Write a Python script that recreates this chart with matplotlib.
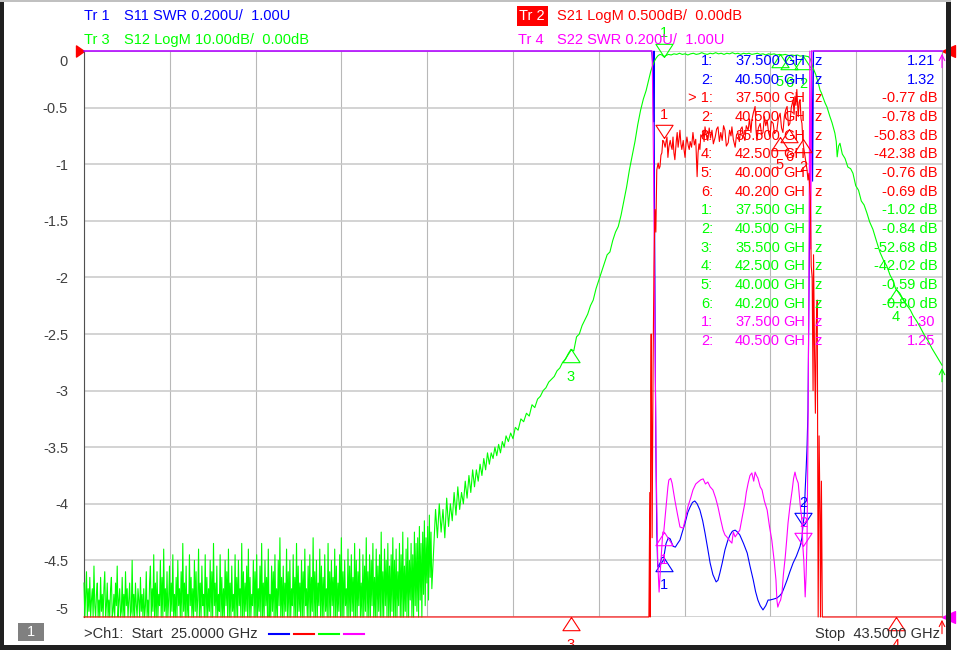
import matplotlib.pyplot as plt
import numpy as np
from matplotlib.path import Path
from matplotlib.patches import Rectangle
from matplotlib.transforms import ScaledTranslation

plt.rcParams['font.family'] = ['Liberation Sans', 'DejaVu Sans']

W, H = 958, 650
BLUE, RED, GREEN, MAGENTA = '#0000ff', '#ff0000', '#00ff00', '#ff00ff'

# sweep
f_start, f_stop = 25.0, 43.5

# ---------------- Tr3  S12 LogM (dB) ----------------
# noise floor 25 .. 32.5 GHz (evenly spaced sweep points)
s12_floor_db = [
    -94, -100, -96, -92, -102, -95, -99, -93, -104, -97, -95, -101, -91, -98, -103, -96, -94, -100, -97, -102,
    -93, -99, -96, -105, -95, -92, -101, -98, -94, -103, -97, -100, -95, -93, -102, -99, -96, -104, -94, -98,
    -91, -101, -97, -95, -103, -99, -93, -100, -96, -104, -92, -98, -95, -102, -97, -94, -101, -99, -90, -103,
    -96, -100, -94, -98, -102, -95, -97, -104, -93, -99, -96, -101, -95, -103, -98, -92, -100, -97, -105, -94,
    -91, -103, -95, -99, -89, -102, -94, -100, -92, -105, -96, -98, -90, -104, -93, -101, -88, -99, -95, -103,
    -92, -100, -97, -91, -104, -94, -99, -89, -102, -96, -100, -93, -105, -90, -98, -95, -103, -92, -101, -87,
    -99, -94, -104, -91, -100, -96, -102, -89, -98, -93, -105, -95, -101, -90, -99, -92, -103, -97, -88, -100,
    -94, -104, -91, -98, -96, -102, -89, -101, -93, -105, -95, -99, -90, -103, -92, -100, -87, -98, -94, -104,
    -91, -101, -96, -99, -89, -103, -93, -100, -95, -105, -90, -98, -92, -102, -88, -101, -94, -104, -91, -99,
    -96, -103, -89, -100, -93, -105, -90, -98, -95, -102, -87, -101, -92, -104, -94, -99, -91, -103, -88, -100,
    -93, -105, -96, -98, -90, -102, -92, -101, -89, -104, -95, -99, -91, -103, -87, -100, -94, -105, -90, -98,
    -93, -102, -88, -101, -96, -104, -91, -99, -92, -103, -89, -100, -95, -105, -90, -98, -86, -102, -93, -101,
    -91, -104, -94, -99, -88, -103, -92, -100, -90, -105, -95, -98, -89, -102, -93, -101, -87, -104, -91, -99,
    -94, -103, -90, -100, -92, -105, -88, -98, -95, -102, -91, -101, -89, -104, -93, -99, -86, -103, -92, -100,
    -90, -105, -94, -98, -88, -102, -91, -101, -93, -104, -89, -99, -95, -103, -87, -100, -92, -105, -90, -98,
    -93, -102, -88, -101, -91, -104, -94, -99, -89, -103, -86, -100, -92, -105, -90, -98, -95, -102, -88, -101,
    -91, -104, -89, -99, -93, -103, -87, -100, -90, -105, -92, -98, -88, -102, -94, -101, -89, -104, -91, -99,
    -86, -103, -92, -100, -89, -105, -90, -98, -87, -102, -93, -101, -88, -104, -91, -99, -89, -103, -85, -100,
    -92, -105, -88, -98, -90, -102, -87, -101, -91, -104, -89, -99, -86, -103, -90, -100, -88, -105, -92, -98,
    -87, -102, -89, -101, -85, -104, -91, -99, -88, -103, -86, -100, -90, -97, -87, -102, -89, -101, -85, -98,
    -87, -99, -86, -101, -84, -97, -87, -100, -85, -96, -83, -98, -86, -94, -84, -97, -82, -93, -85, -95,
]
s12_floor_end = 32.5
s12_pts = [
    (32.54, -88), (32.58, -81), (32.62, -86), (32.66, -80), (32.70, -85), (32.74, -81), (32.78, -86),
    (32.82, -79), (32.86, -84), (32.90, -80), (32.94, -83), (32.98, -78), (33.02, -82), (33.06, -77),
    (33.10, -81), (33.14, -78), (33.18, -80), (33.22, -76), (33.26, -79), (33.30, -75), (33.34, -78),
    (33.38, -74), (33.42, -77), (33.46, -74), (33.50, -76), (33.54, -73), (33.58, -75), (33.62, -72),
    (33.66, -74), (33.70, -71), (33.74, -73), (33.78, -71), (33.82, -72), (33.86, -70), (33.90, -71.5),
    (33.94, -69.5), (33.98, -71), (34.02, -69), (34.06, -70), (34.10, -68), (34.15, -69), (34.20, -67.5),
    (34.25, -68.5), (34.30, -66.5), (34.36, -67), (34.42, -65), (34.48, -65.5), (34.54, -64), (34.60, -64.5),
    (34.66, -62.5), (34.72, -63), (34.78, -61.5), (34.84, -61), (34.90, -60), (34.96, -59.5), (35.02, -58.5),
    (35.08, -58), (35.14, -57.5), (35.20, -56.5), (35.26, -56), (35.32, -55), (35.38, -54.5), (35.44, -53.5),
    (35.50, -52.7), (35.56, -53), (35.62, -50.5), (35.68, -50), (35.74, -48.5), (35.80, -47.5), (35.86, -46.5),
    (35.92, -45), (35.98, -44), (36.04, -42), (36.10, -40.5), (36.16, -39), (36.22, -37.5), (36.28, -36),
    (36.34, -35.5), (36.40, -33.5), (36.46, -32), (36.52, -31), (36.58, -29), (36.64, -26.5), (36.70, -24),
    (36.76, -21), (36.82, -18.5), (36.88, -16), (36.94, -13), (37.00, -10.5), (37.06, -8.5), (37.12, -7),
    (37.18, -5), (37.22, -3.6), (37.26, -2.6), (37.30, -1.8), (37.34, -1.2), (37.38, -0.8), (37.42, -0.6),
    (37.46, -0.7), (37.50, -1.0), (37.55, -0.8), (37.60, -0.6), (37.66, -0.7), (37.72, -0.5), (37.78, -0.6),
    (37.84, -0.4), (37.90, -0.6), (37.96, -0.5), (38.02, -0.7), (38.08, -0.5), (38.14, -0.4), (38.20, -0.6),
    (38.26, -0.5), (38.32, -0.3), (38.38, -0.5), (38.44, -0.6), (38.50, -0.4), (38.56, -0.5), (38.62, -0.3),
    (38.68, -0.5), (38.74, -0.4), (38.80, -0.6), (38.86, -0.4), (38.92, -0.5), (38.98, -0.3), (39.04, -0.5),
    (39.10, -0.4), (39.16, -0.6), (39.22, -0.4), (39.28, -0.5), (39.34, -0.4), (39.40, -0.6), (39.46, -0.5),
    (39.52, -0.4), (39.58, -0.6), (39.64, -0.5), (39.70, -0.7), (39.76, -0.5), (39.82, -0.6), (39.88, -0.5),
    (39.94, -0.7), (40.00, -0.6), (40.06, -0.7), (40.12, -0.6), (40.20, -0.8), (40.26, -0.7), (40.32, -0.8),
    (40.38, -0.7), (40.44, -0.9), (40.50, -0.84), (40.56, -0.9), (40.62, -1.0), (40.66, -1.4),
    (40.70, -2.5), (40.74, -3.4), (40.78, -4.2), (40.83, -5.6), (40.87, -6.9), (40.90, -7.4), (40.93, -8.1),
    (40.98, -9.2), (41.02, -9.9), (41.08, -11.5), (41.13, -12.7), (41.19, -14.5), (41.22, -16.0), (41.24, -18.7),
    (41.27, -16.8), (41.30, -16.3), (41.35, -18.2), (41.41, -19.0), (41.47, -20.5), (41.53, -20.8), (41.58, -21.6),
    (41.64, -23.8), (41.70, -24.6), (41.76, -26.5), (41.82, -27.2), (41.88, -28.6), (41.94, -30.2), (42.01, -31.5),
    (42.08, -33.4), (42.16, -35.5), (42.24, -37.0), (42.31, -38.0), (42.38, -39.6), (42.44, -40.5), (42.50, -42.0),
    (42.59, -42.8), (42.67, -44.0), (42.75, -45.0), (42.82, -45.8), (42.88, -46.8), (42.96, -47.8), (43.03, -48.8),
    (43.12, -50.2), (43.20, -51.2), (43.28, -52.5), (43.36, -53.6), (43.43, -54.6), (43.50, -55.5),
]

# ---------------- Tr2  S21 LogM (dB) ----------------
s21_pts = [
    (25.0, -62), (30.0, -70), (35.5, -50.83), (36.8, -25), (37.1, -12), (37.18, -6.0),
    (37.20, -3.9), (37.21, -5.5), (37.22, -3.0), (37.23, -2.5), (37.25, -4.3), (37.27, -2.8), (37.29, -1.9),
    (37.31, -1.4), (37.33, -1.6), (37.35, -1.05),
    (37.38, -0.99), (37.40, -1.04), (37.42, -1.02), (37.44, -0.92), (37.46, -0.90), (37.48, -0.79), (37.50, -0.80),
    (37.53, -0.85), (37.55, -0.80), (37.57, -0.76), (37.59, -0.94), (37.61, -0.85), (37.64, -0.79), (37.66, -0.84),
    (37.68, -0.87), (37.70, -0.76), (37.72, -0.90), (37.74, -0.96), (37.77, -0.80), (37.79, -0.72), (37.81, -0.85),
    (37.83, -0.78), (37.85, -0.70), (37.87, -0.82), (37.89, -0.87), (37.92, -0.79), (37.94, -0.88), (37.96, -0.94),
    (37.98, -0.82), (38.00, -0.76), (38.03, -0.84), (38.05, -0.87), (38.07, -0.80), (38.10, -0.85), (38.13, -0.72),
    (38.16, -0.83), (38.19, -0.78), (38.22, -1.11), (38.24, -0.90), (38.26, -0.82), (38.28, -0.87), (38.30, -0.74),
    (38.33, -0.76), (38.35, -0.70), (38.37, -0.80), (38.39, -0.67), (38.42, -0.75), (38.45, -0.79), (38.48, -0.68),
    (38.51, -0.77), (38.54, -0.70), (38.57, -0.82), (38.61, -0.76), (38.64, -0.69), (38.67, -0.67), (38.70, -0.80),
    (38.73, -0.72), (38.76, -0.79), (38.79, -0.66), (38.82, -0.70), (38.85, -0.84), (38.89, -0.81), (38.92, -0.70),
    (38.95, -0.75), (38.97, -0.67), (39.00, -0.78), (39.04, -0.85), (39.07, -0.74), (39.10, -0.72), (39.13, -0.80),
    (39.16, -0.69), (39.19, -0.67), (39.22, -0.75), (39.25, -0.79), (39.28, -0.66), (39.32, -0.70), (39.35, -0.60),
    (39.38, -0.72), (39.40, -0.61), (39.43, -0.55), (39.47, -0.49), (39.49, -0.70), (39.51, -0.79), (39.54, -0.68),
    (39.58, -0.64), (39.61, -0.74), (39.64, -0.72), (39.67, -0.58), (39.70, -0.66), (39.73, -0.61), (39.76, -0.72),
    (39.79, -0.76), (39.82, -0.62), (39.86, -0.64), (39.89, -0.73), (39.94, -0.70), (39.97, -0.60), (40.01, -0.55),
    (40.04, -0.68), (40.07, -0.72), (40.10, -0.58), (40.13, -0.52), (40.16, -0.49), (40.19, -0.66), (40.22, -0.64),
    (40.25, -0.50), (40.29, -0.43), (40.31, -0.56), (40.33, -0.40), (40.35, -0.48), (40.37, -0.34), (40.40, -0.58),
    (40.42, -0.45), (40.44, -0.43), (40.46, -0.60), (40.48, -0.64), (40.50, -0.79), (40.52, -0.86), (40.55, -0.94),
    (40.59, -1.05), (40.61, -1.14), (40.63, -1.08), (40.66, -1.29),
    (40.68, -1.9), (40.70, -2.0), (40.72, -3.0), (40.73, -1.8), (40.75, -2.6), (40.77, -3.2), (40.79, -2.4),
    (40.81, -2.2), (40.83, -5.8), (40.85, -3.4), (40.87, -4.1), (40.88, -6.5), (40.90, -3.8), (40.92, -8.0),
    (40.95, -14.0), (41.2, -28), (42.5, -42.38), (43.5, -55),
]

# ---------------- Tr1  S11 SWR ----------------
s11_pts = [
    (25.0, 8.0), (30.0, 12.0), (37.0, 9.0), (37.24, 4.0), (37.27, 2.94), (37.28, 2.75), (37.29, 3.4),
    (37.30, 2.5), (37.31, 2.2), (37.32, 1.85), (37.33, 1.6), (37.34, 1.45), (37.35, 1.3), (37.37, 1.177),
    (37.42, 1.19), (37.46, 1.21), (37.50, 1.21), (37.55, 1.26), (37.60, 1.28), (37.64, 1.276), (37.70, 1.25),
    (37.75, 1.247), (37.80, 1.26), (37.85, 1.272), (37.90, 1.30), (37.96, 1.332), (38.02, 1.37), (38.07, 1.389),
    (38.12, 1.405), (38.17, 1.41), (38.22, 1.40), (38.28, 1.378), (38.34, 1.34), (38.39, 1.297), (38.45, 1.24),
    (38.50, 1.191), (38.56, 1.15), (38.63, 1.124), (38.67, 1.13), (38.71, 1.155), (38.76, 1.19), (38.82, 1.237),
    (38.88, 1.27), (38.93, 1.29), (38.98, 1.303), (39.04, 1.307), (39.09, 1.30), (39.14, 1.29), (39.22, 1.26),
    (39.30, 1.226), (39.36, 1.18), (39.43, 1.131), (39.48, 1.09), (39.53, 1.06), (39.58, 1.04), (39.64, 1.025),
    (39.70, 1.04), (39.75, 1.06), (39.79, 1.06), (39.86, 1.063), (39.94, 1.067), (40.00, 1.075), (40.05, 1.085),
    (40.10, 1.105), (40.16, 1.131), (40.22, 1.16), (40.29, 1.191), (40.36, 1.215), (40.44, 1.25), (40.48, 1.28),
    (40.50, 1.32), (40.53, 1.36), (40.55, 1.45), (40.57, 1.52), (40.59, 1.60), (40.61, 1.73), (40.63, 2.1),
    (40.65, 2.45), (40.67, 2.6), (40.69, 3.5), (40.71, 2.54), (40.73, 4.0), (41.5, 10.0), (43.5, 8.0),
]

# ---------------- Tr4  S22 SWR ----------------
s22_pts = [
    (25.0, 9.0), (30.0, 11.0), (37.0, 8.0), (37.25, 4.0), (37.28, 2.6), (37.31, 2.0), (37.34, 1.5),
    (37.37, 1.2), (37.40, 1.088), (37.44, 1.2), (37.48, 1.30), (37.50, 1.30), (37.55, 1.389), (37.59, 1.46),
    (37.61, 1.484), (37.65, 1.49), (37.68, 1.473), (37.74, 1.413), (37.80, 1.36), (37.85, 1.318), (37.92, 1.314),
    (37.97, 1.35), (38.02, 1.389), (38.08, 1.42), (38.13, 1.449), (38.19, 1.47), (38.24, 1.477), (38.30, 1.485),
    (38.35, 1.488), (38.40, 1.47), (38.45, 1.477), (38.50, 1.46), (38.56, 1.449), (38.62, 1.42), (38.67, 1.389),
    (38.72, 1.35), (38.78, 1.307), (38.82, 1.29), (38.86, 1.283), (38.92, 1.27), (38.97, 1.261), (39.00, 1.30),
    (39.04, 1.283), (39.09, 1.295), (39.14, 1.307), (39.20, 1.36), (39.25, 1.403), (39.28, 1.44), (39.32, 1.473),
    (39.36, 1.50), (39.40, 1.509), (39.44, 1.48), (39.47, 1.512), (39.50, 1.50), (39.53, 1.491), (39.58, 1.46),
    (39.62, 1.449), (39.67, 1.41), (39.73, 1.378), (39.78, 1.32), (39.83, 1.272), (39.88, 1.20), (39.92, 1.131),
    (39.94, 1.06), (39.96, 1.035), (39.99, 1.05), (40.02, 1.06), (40.05, 1.085), (40.08, 1.15), (40.12, 1.212),
    (40.15, 1.27), (40.18, 1.332), (40.22, 1.39), (40.27, 1.449), (40.30, 1.49), (40.33, 1.512), (40.36, 1.49),
    (40.40, 1.473), (40.44, 1.40), (40.48, 1.343), (40.50, 1.25), (40.52, 1.20), (40.55, 1.071), (40.57, 1.15),
    (40.59, 1.272), (40.61, 1.625), (40.63, 2.2), (40.65, 3.0), (40.67, 2.3), (40.69, 4.0), (41.5, 12.0),
    (43.5, 9.0),
]

# ---------------- markers ----------------
s11_mk_f = [37.5, 40.5]
s11_mk_v = [1.21, 1.32]
s11_mk_dir = ['up', 'down']
s21_mk_f = [37.5, 40.5, 35.5, 42.5, 40.0, 40.2]
s21_mk_v = [-0.77, -0.78, -50.83, -42.38, -0.76, -0.69]
s21_mk_dir = ['down', 'up', 'up', 'up', 'up', 'up']
s12_mk_f = [37.5, 40.5, 35.5, 42.5, 40.0, 40.2]
s12_mk_v = [-1.02, -0.84, -52.68, -42.02, -0.59, -0.80]
s12_mk_dir = ['down', 'up', 'up', 'up', 'up', 'up']
s22_mk_f = [37.5, 40.5]
s22_mk_v = [1.30, 1.25]
s22_mk_dir = ['up', 'down']

y_ticks = np.linspace(-5, 0, 11)


def px(x, y):
    return x / W, 1 - y / H


def unzip(pts):
    f, v = zip(*pts)
    return np.array(f), np.array(v)


fig = plt.figure(figsize=(W / 100, H / 100), dpi=100)
fig.patch.set_facecolor('white')

ax = fig.add_axes([84 / W, 1 - 617 / H, 858 / W, 566 / H])
ax.set_xlim(f_start, f_stop)
ax.set_ylim(-5, 0)
ax.set_xticks(np.linspace(f_start, f_stop, 11))
ax.set_yticks(y_ticks)
ax.set_yticklabels([f'{v:g}' for v in y_ticks])
ax.tick_params(axis='x', length=0, labelbottom=False)
ax.tick_params(axis='y', length=0, pad=11.5, labelsize=10.5, labelcolor='#404040')
labs = ax.get_yticklabels()
labs[0].set_va('bottom')
labs[-1].set_va('top')
labs[-1].set_transform(labs[-1].get_transform() + ScaledTranslation(0, -3 / 72, fig.dpi_scale_trans))
ax.grid(axis='y', color='#c8c8c8', lw=1.1)
ax.grid(axis='x', color='#b8b8b8', lw=0.8)
ax.spines['left'].set_color('#505050')
ax.spines['right'].set_color('#a0a0a0')
ax.spines['top'].set_visible(False)
ax.spines['bottom'].set_visible(False)


def overlay(lo, hi):
    t = ax.twinx()
    t.set_ylim(lo, hi)
    t.axis('off')
    return t


ax11 = overlay(1.0, 3.0)
ax12 = overlay(-100, 0)
ax22 = overlay(1.0, 3.0)
ax21 = overlay(-5, 0)

UP = Path([(0, 0), (-0.65, -1), (0.65, -1), (0, 0)])
DOWN = Path([(0, 0), (-0.65, 1), (0.65, 1), (0, 0)])


def trace(a, f, v, color):
    lo, hi = a.get_ylim()
    a.plot(f, np.clip(v, lo, hi), color=color, lw=0.8, clip_on=False)


def markers(a, freqs, vals, dirs, color):
    lo, hi = a.get_ylim()
    for i, (f, v, d) in enumerate(zip(freqs, vals, dirs), 1):
        y = min(max(v, lo), hi)
        a.plot([f], [y], ls='none', marker=UP if d == 'up' else DOWN, ms=19,
               mfc='none', mec=color, mew=0.8, clip_on=False)
        dy = -20 if d == 'up' else 17
        a.annotate(str(i), (f, y), xytext=(0, dy), textcoords='offset points',
                   ha='center', va='center', color=color, fontsize=10.5,
                   annotation_clip=False)


f11, v11 = unzip(s11_pts)
f12 = np.concatenate([np.linspace(f_start, s12_floor_end, len(s12_floor_db)), unzip(s12_pts)[0]])
v12 = np.concatenate([s12_floor_db, unzip(s12_pts)[1]])
f22, v22 = unzip(s22_pts)
f21, v21 = unzip(s21_pts)

trace(ax11, f11, v11, BLUE)
trace(ax12, f12, v12, GREEN)
trace(ax22, f22, v22, MAGENTA)
trace(ax21, f21, v21, RED)

markers(ax11, s11_mk_f, s11_mk_v, s11_mk_dir, BLUE)
markers(ax12, s12_mk_f, s12_mk_v, s12_mk_dir, GREEN)
markers(ax22, s22_mk_f, s22_mk_v, s22_mk_dir, MAGENTA)
markers(ax21, s21_mk_f, s21_mk_v, s21_mk_dir, RED)

# end-of-sweep arrows on the right edge
for a, v, c in [(ax12, v12[-1], GREEN), (ax21, -5, RED), (ax22, 3.0, MAGENTA)]:
    lo, hi = a.get_ylim()
    a.annotate('', xy=(f_stop, min(max(v, lo), hi)), xytext=(0, -14), textcoords='offset points',
               arrowprops=dict(arrowstyle='->', color=c, lw=0.8), annotation_clip=False)

# reference position triangles
RIGHT_TRI = Path([(0, 0), (-1, 0.7), (-1, -0.7), (0, 0)])
LEFT_TRI = Path([(0, 0), (1, 0.45), (1, -0.45), (0, 0)])
ax.plot([0], [1], transform=ax.transAxes, marker=RIGHT_TRI, ms=11.5, color=RED, clip_on=False)
ax.plot([1], [1], transform=ax.transAxes, marker=LEFT_TRI, ms=18.7, color=RED, clip_on=False)
ax.plot([1], [0], transform=ax.transAxes, marker=LEFT_TRI, ms=18.7, color=MAGENTA, clip_on=False)

# ---------------- header ----------------
fs = 10.5
fig.text(*px(84, 16), 'Tr 1', color=BLUE, va='center', fontsize=fs)
fig.text(*px(124, 16), 'S11 SWR 0.200U/  1.00U', color=BLUE, va='center', fontsize=fs)
fig.text(*px(84, 40), 'Tr 3', color=GREEN, va='center', fontsize=fs)
fig.text(*px(124, 40), 'S12 LogM 10.00dB/  0.00dB', color=GREEN, va='center', fontsize=fs)
fig.add_artist(Rectangle(px(517, 26), 31 / W, 20 / H, transform=fig.transFigure, color=RED, lw=0))
fig.text(*px(519, 16), 'Tr 2', color='white', va='center', fontsize=fs)
fig.text(*px(557, 16), 'S21 LogM 0.500dB/  0.00dB', color=RED, va='center', fontsize=fs)
fig.text(*px(518, 40), 'Tr 4', color=MAGENTA, va='center', fontsize=fs)
fig.text(*px(557, 40), 'S22 SWR 0.200U/  1.00U', color=MAGENTA, va='center', fontsize=fs)

# ---------------- marker readout table ----------------
rows = []
for i, (f, v) in enumerate(zip(s11_mk_f, s11_mk_v), 1):
    rows.append((f'{i}:', f, f'{v:.2f}', BLUE))
for i, (f, v) in enumerate(zip(s21_mk_f, s21_mk_v), 1):
    rows.append((('> ' if i == 1 else '') + f'{i}:', f, f'{v:.2f} dB', RED))
for i, (f, v) in enumerate(zip(s12_mk_f, s12_mk_v), 1):
    rows.append((f'{i}:', f, f'{v:.2f} dB', GREEN))
for i, (f, v) in enumerate(zip(s22_mk_f, s22_mk_v), 1):
    rows.append((f'{i}:', f, f'{v:.2f}', MAGENTA))

for k, (idx, f, val, c) in enumerate(rows):
    y = 61 + k * 18.67
    fig.text(*px(713, y), idx, color=c, ha='right', va='center', fontsize=fs)
    fig.text(*px(735, y), f'{f:.3f}', color=c, va='center', fontsize=fs)
    fig.text(*px(783, y), 'GH', color=c, va='center', fontsize=fs)
    fig.text(*px(814, y), 'z', color=c, va='center', fontsize=fs)
    xr = 938 if 'dB' in val else 935
    fig.text(*px(xr, y), val, color=c, ha='right', va='center', fontsize=fs)

# ---------------- footer ----------------
fig.add_artist(Rectangle(px(18, 641), 26 / W, 18 / H, transform=fig.transFigure, color='#808080', lw=0))
fig.text(*px(31, 632), '1', color='white', ha='center', va='center', fontsize=fs)
fig.text(*px(84, 634), '>Ch1:  Start  25.0000 GHz', color='#303030', va='center', fontsize=fs)
fig.text(*px(940, 634), 'Stop  43.5000 GHz', color='#303030', ha='right', va='center', fontsize=fs)
for x0, c in [(269, BLUE), (294, RED), (319, GREEN), (344, MAGENTA)]:
    fig.add_artist(plt.Line2D([x0 / W, (x0 + 20) / W], [1 - 634 / H] * 2, transform=fig.transFigure,
                              color=c, lw=1.5))

# window frame
for (x, y, w, h) in [(0, 650, 4, 650), (946, 650, 5, 650), (0, 650, 951, 5)]:
    fig.add_artist(Rectangle(px(x, y), w / W, h / H, transform=fig.transFigure, color='#202020', lw=0))
fig.add_artist(Rectangle(px(0, 2), 951 / W, 2 / H, transform=fig.transFigure, color='#c0c0c0', lw=0))

fig.savefig('out.png', dpi=100)
